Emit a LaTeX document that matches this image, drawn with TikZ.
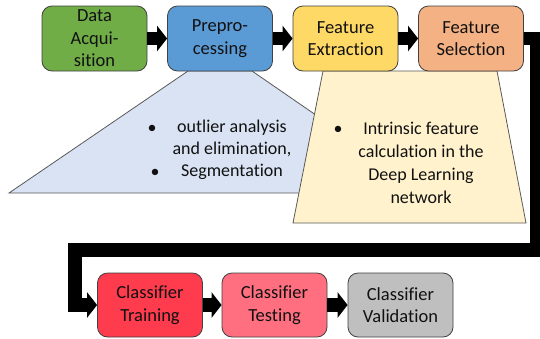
\documentclass[tikz,border=0pt]{standalone}
\usepackage{fontspec}
\setmainfont{Carlito}[Ligatures=CommonOff]
\usetikzlibrary{arrows.meta}

\definecolor{edgegray}{HTML}{404040}
\definecolor{calloutedge}{HTML}{595959}
\definecolor{txt}{HTML}{111111}
\definecolor{acqgreen}{HTML}{70AD47}
\definecolor{preblue}{HTML}{5B9BD5}
\definecolor{extyellow}{HTML}{FFD966}
\definecolor{selorange}{HTML}{F4B183}
\definecolor{trainred}{HTML}{FF3B4E}
\definecolor{testpink}{HTML}{FF6F7F}
\definecolor{validgray}{HTML}{BFBFBF}
\definecolor{noteblue}{HTML}{DAE3F3}
\definecolor{noteyellow}{HTML}{FFF2CC}

\begin{document}
\begin{tikzpicture}[x=1pt,y=-1pt,
  stage/.style={draw=edgegray, line width=0.8pt, rounded corners=10pt,
    minimum width=105pt, minimum height=65pt, inner sep=0pt,
    align=center, text=txt, font=\fontsize{18.5}{22.5}\selectfont},
  flow/.style={line width=13.5pt, line join=miter,
    -{Triangle[width=25pt,length=10pt]}},
  callout/.style={draw=calloutedge, line width=0.8pt, line join=miter},
  notetext/.style={inner sep=0pt, align=center, text=txt},
  bulletmark/.style={inner sep=0pt, text=txt, font=\fontsize{18}{22}\selectfont}
]
\clip (0,0) rectangle (540,338);

% callout areas under the preprocessing and extraction stages
\fill[white] (0,0) rectangle (540,338);
\draw[callout, fill=noteblue] (188,71) -- (252,71) -- (429,193) -- (9,193) -- cycle;
\draw[callout, fill=noteyellow] (323,71) -- (497,71) -- (526,223) -- (293,223) -- cycle;

% pipeline stages
\node[stage, fill=acqgreen]  (da) at (94.5,38.5) {Data\\Acqui-\\sition};
\node[stage, fill=preblue]   (pp) at (220,38.5)  {Prepro-\\cessing};
\node[stage, fill=extyellow] (fe) at (345.5,38.5) {Feature\\Extraction};
\node[stage, fill=selorange] (fs) at (471,38.5)  {Feature\\Selection};
\node[stage, fill=trainred, minimum height=64pt]  (ct) at (150,305)   {Classifier\\Training};
\node[stage, fill=testpink, minimum height=64pt]  (cs) at (274.5,305) {Classifier\\Testing};
\node[stage, fill=validgray, minimum height=64pt] (cv) at (400.5,305) {Classifier\\Validation};

% callout contents
\node[bulletmark] (b1) at (152,129) {\textbullet};
\node[bulletmark] (b2) at (155,173) {\textbullet};
\node[notetext, font=\fontsize{18}{22}\selectfont] (pptext) at (232,150)
  {outlier analysis\\and elimination,\\Segmentation};
\node[bulletmark] (b3) at (338,130) {\textbullet};
\node[notetext, font=\fontsize{18}{23}\selectfont] (fetext) at (421,162.5)
  {Intrinsic feature\\calculation in the\\Deep Learning\\network};

% flow arrows
\draw[flow] (da.east) -- (pp.west);
\draw[flow] (pp.east) -- (fe.west);
\draw[flow] (fe.east) -- (fs.west);
\coordinate (turnR) at (537,250);
\coordinate (turnL) at (75,250);
\draw[flow] (fs.east) -| (turnR) -- (turnL) |- (ct.west);
\draw[flow] (ct.east) -- (cs.west);
\draw[flow] (cs.east) -- (cv.west);
\end{tikzpicture}
\end{document}
